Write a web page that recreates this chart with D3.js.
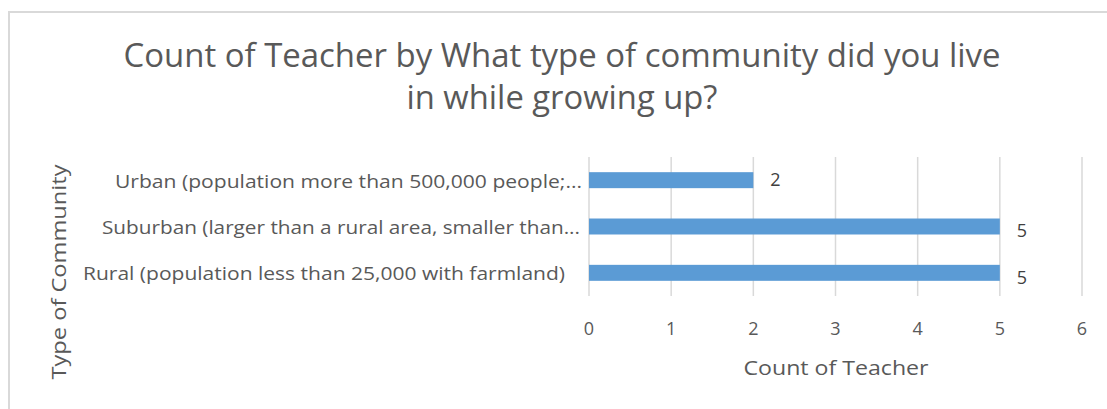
<!DOCTYPE html>
<html><head><meta charset="utf-8">
<script src="https://cdn.jsdelivr.net/npm/d3@7"></script>
<style>body{margin:0;background:#fff;} svg{display:block;}</style>
</head><body>
<script>
const categories = ["Urban (population more than 500,000 people;...", "Suburban (larger than a rural area, smaller than...", "Rural (population less than 25,000 with farmland)"];
const values = [2, 5, 5];
const xTicks = [0, 1, 2, 3, 4, 5, 6];
const titleLines = ["Count of Teacher by What type of community did you live", "in while growing up?"];
const xTitle = "Count of Teacher";
const yTitle = "Type of Community";

const W = 1107, H = 409;
const font = "'Open Sans', sans-serif";
const svg = d3.select("body").append("svg").attr("width", W).attr("height", H);
svg.append("rect").attr("x", 9).attr("y", 12).attr("width", W).attr("height", H).attr("fill", "#fff").attr("stroke", "#d9d9d9").attr("stroke-width", 2);

const x = d3.scaleLinear().domain([0, 6]).range([589, 1082]);
const y = d3.scaleBand().domain(categories).range([157, 296]).paddingInner(0.655).paddingOuter(0.3275);

// gridlines
svg.append("g").selectAll("line").data(xTicks).join("line")
  .attr("x1", d => x(d)).attr("x2", d => x(d)).attr("y1", 157).attr("y2", 296)
  .attr("stroke", "#d9d9d9").attr("stroke-width", 1.5);

svg.append("g").selectAll("rect").data(values).join("rect")
  .attr("x", x(0)).attr("y", (d, i) => y(categories[i]))
  .attr("width", d => x(d) - x(0)).attr("height", y.bandwidth())
  .attr("fill", "#5b9bd5");

svg.append("g").selectAll("text").data(values).join("text")
  .attr("x", d => x(d) + 17).attr("y", (d, i) => y(categories[i]) + y.bandwidth() / 2)
  .attr("dy", (d, i) => i === 0 ? "0.35em" : "0.6em")
  .attr("font-family", font).attr("font-size", 18).attr("fill", "#404040")
  .text(d => d);

// category labels
const labelEnds = [582, 580, 565];
const labelLens = [467, 478, 482];
svg.append("g").selectAll("text").data(categories).join("text")
  .attr("x", (d, i) => labelEnds[i]).attr("y", d => y(d) + y.bandwidth() / 2 + 1).attr("dy", "0.35em")
  .attr("text-anchor", "end").attr("font-family", font).attr("font-size", 18.5).attr("fill", "#595959")
  .attr("textLength", (d, i) => labelLens[i]).attr("lengthAdjust", "spacingAndGlyphs")
  .text(d => d);

// x tick labels
svg.append("g").selectAll("text").data(xTicks).join("text")
  .attr("x", d => x(d)).attr("y", 329).attr("dy", "0.35em").attr("text-anchor", "middle")
  .attr("font-family", font).attr("font-size", 18).attr("fill", "#595959")
  .text(d => d);

svg.append("text").attr("x", 836).attr("y", 368).attr("dy", "0.35em").attr("text-anchor", "middle")
  .attr("font-family", font).attr("font-size", 20).attr("fill", "#595959")
  .attr("textLength", 185).attr("lengthAdjust", "spacingAndGlyphs").text(xTitle);

svg.append("text").attr("transform", "translate(59,272) rotate(-90)").attr("dy", "0.35em").attr("text-anchor", "middle")
  .attr("font-family", font).attr("font-size", 20).attr("fill", "#595959")
  .attr("textLength", 215).attr("lengthAdjust", "spacingAndGlyphs").text(yTitle);

const titleLens = [877, 311];
svg.append("g").selectAll("text").data(titleLines).join("text")
  .attr("x", 562).attr("y", (d, i) => 67 + i * 42).attr("text-anchor", "middle")
  .attr("font-family", font).attr("font-size", 32).attr("fill", "#595959")
  .attr("textLength", (d, i) => titleLens[i]).attr("lengthAdjust", "spacingAndGlyphs")
  .text(d => d);
</script>
</body></html>
